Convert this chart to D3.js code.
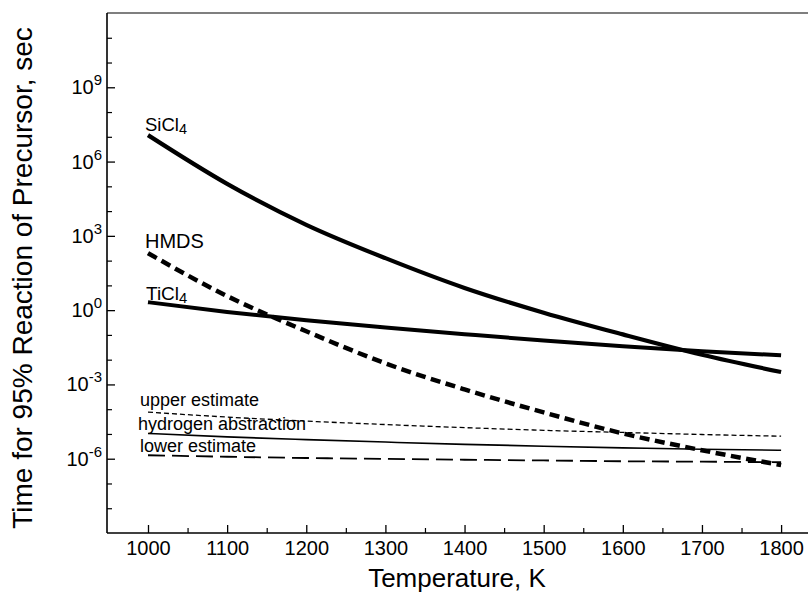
<!DOCTYPE html>
<html>
<head>
<meta charset="utf-8">
<script src="https://cdn.jsdelivr.net/npm/d3@7/dist/d3.min.js"></script>
<style>
  html, body { margin: 0; padding: 0; background: #fff; }
  svg { display: block; font-family: "Liberation Sans", Arial, Helvetica, sans-serif; }
</style>
</head>
<body>
<svg id="chart" width="809" height="593"></svg>
<script>
// ---- data ----
const temperatures = [1000, 1100, 1200, 1300, 1400, 1500, 1600, 1700, 1800];
const sicl4 = [1.17e7, 1.26e5, 2.8e3, 126, 7.9, 0.79, 0.105, 0.0158, 0.00316];
const ticl4 = [2.1, 0.85, 0.39, 0.20, 0.107, 0.059, 0.035, 0.022, 0.015];
const hmds  = [200, 3.7, 0.14, 7.1e-3, 6.3e-4, 7.4e-5, 1.05e-5, 2.2e-6, 5.5e-7];
const upperEstimate = [7.6e-5, 4.8e-5, 3.3e-5, 2.4e-5, 1.8e-5, 1.4e-5, 1.15e-5, 9.5e-6, 8.1e-6];
const hydrogenAbstraction = [1.05e-5, 7.6e-6, 5.9e-6, 4.7e-6, 3.8e-6, 3.2e-6, 2.75e-6, 2.4e-6, 2.2e-6];
const lowerEstimate = [1.38e-6, 1.2e-6, 1.07e-6, 9.8e-7, 9.1e-7, 8.5e-7, 7.9e-7, 7.6e-7, 7.2e-7];

const xTickValues = [1000, 1100, 1200, 1300, 1400, 1500, 1600, 1700, 1800];
const xMinorTicks = [1050, 1150, 1250, 1350, 1450, 1550, 1650, 1750];
const yLabelExponents = [-6, -3, 0, 3, 6, 9];
const yMinorExponents = [-8, -7, -5, -4, -2, -1, 1, 2, 4, 5, 7, 8, 10, 11];

(function () {
// ---- layout ----
const svg = d3.select("#chart");
const pL = 107, pR = 808, pT = 13, pB = 533;

const x = d3.scaleLinear().domain([948.2, 1834]).range([pL, pR]);
const y = d3.scaleLog().domain([1e-9, 1e12]).range([pB, pT]);

svg.append("rect").attr("width", 809).attr("height", 593).attr("fill", "#fff");

// frame: left, bottom, top (no right border)
const frame = svg.append("g").attr("stroke", "#000").attr("fill", "none");
frame.append("line").attr("x1", pL).attr("x2", pL).attr("y1", pT).attr("y2", pB).attr("stroke-width", 1.6);
frame.append("line").attr("x1", pL).attr("x2", pR).attr("y1", pB).attr("y2", pB).attr("stroke-width", 1.6);
frame.append("line").attr("x1", pL).attr("x2", pR).attr("y1", pT).attr("y2", pT).attr("stroke-width", 1.2);

// x axis (ticks inward)
const xAxis = d3.axisBottom(x).tickValues(xTickValues).tickSize(-8).tickPadding(8).tickFormat(d3.format("d"));
const gx = svg.append("g").attr("transform", `translate(0,${pB})`).call(xAxis);
gx.select(".domain").remove();
gx.selectAll(".tick line").attr("stroke", "#000").attr("stroke-width", 1.3);
gx.selectAll(".tick text").attr("font-size", 20).attr("fill", "#000").attr("font-family", "Liberation Sans, Arial, sans-serif");

const xMinor = d3.axisBottom(x).tickValues(xMinorTicks).tickSize(-5).tickFormat("");
const gxm = svg.append("g").attr("transform", `translate(0,${pB})`).call(xMinor);
gxm.select(".domain").remove();
gxm.selectAll(".tick line").attr("stroke", "#000").attr("stroke-width", 1.2);

// y axis (ticks inward)
const yMajor = d3.axisLeft(y).tickValues(yLabelExponents.map(e => Math.pow(10, e))).tickSize(-8).tickFormat("");
const gy = svg.append("g").attr("transform", `translate(${pL},0)`).call(yMajor);
gy.select(".domain").remove();
gy.selectAll(".tick line").attr("stroke", "#000").attr("stroke-width", 1.3);

const yMinor = d3.axisLeft(y).tickValues(yMinorExponents.map(e => Math.pow(10, e))).tickSize(-5).tickFormat("");
const gym = svg.append("g").attr("transform", `translate(${pL},0)`).call(yMinor);
gym.select(".domain").remove();
gym.selectAll(".tick line").attr("stroke", "#000").attr("stroke-width", 1.2);

// y tick labels 10^n
const yl = svg.append("g");
yLabelExponents.forEach(e => {
  const t = yl.append("text")
    .attr("x", 102)
    .attr("y", y(Math.pow(10, e)) + 7)
    .attr("text-anchor", "end")
    .attr("font-size", 20)
    .attr("fill", "#000");
  t.append("tspan").text("10");
  t.append("tspan").attr("dy", -9).attr("font-size", 15).text(String(e));
});

// axis titles
svg.append("text")
  .attr("x", 457).attr("y", 587)
  .attr("text-anchor", "middle")
  .attr("font-size", 26)
  .attr("fill", "#000")
  .text("Temperature, K");

svg.append("text")
  .attr("transform", "translate(32,278) rotate(-90)")
  .attr("text-anchor", "middle")
  .attr("font-size", 28)
  .attr("fill", "#000")
  .text("Time for 95% Reaction of Precursor, sec");

// ---- series ----
const line = d3.line()
  .x(d => x(d[0]))
  .y(d => y(d[1]))
  .curve(d3.curveMonotoneX);

const series = [
  { values: sicl4, width: 4.2, dash: null },
  { values: ticl4, width: 4.0, dash: null },
  { values: hmds, width: 4.5, dash: "10,5.5" },
  { values: upperEstimate, width: 1.3, dash: "5,3" },
  { values: hydrogenAbstraction, width: 1.6, dash: null },
  { values: lowerEstimate, width: 1.8, dash: "17,7" }
];

const gl = svg.append("g").attr("fill", "none").attr("stroke", "#000");
series.forEach(s => {
  gl.append("path")
    .datum(temperatures.map((t, i) => [t, s.values[i]]))
    .attr("d", line)
    .attr("stroke-width", s.width)
    .attr("stroke-dasharray", s.dash)
    .attr("stroke-linecap", "butt");
});

// ---- labels ----
function chemLabel(xp, yp, base, sub, size) {
  const t = svg.append("text").attr("x", xp).attr("y", yp).attr("font-size", size).attr("fill", "#000");
  t.append("tspan").text(base);
  if (sub) t.append("tspan").attr("dy", 3).attr("font-size", size * 0.78).text(sub);
}
chemLabel(145, 131, "SiCl", "4", 18.5);
chemLabel(145, 248, "HMDS", null, 20);
chemLabel(146, 300, "TiCl", "4", 19);

const smallLabels = [
  { text: "upper estimate", x: 140, y: 406 },
  { text: "hydrogen abstraction", x: 138, y: 430 },
  { text: "lower estimate", x: 140, y: 452 }
];
smallLabels.forEach(l => {
  svg.append("text").attr("x", l.x).attr("y", l.y).attr("font-size", 18).attr("fill", "#000").text(l.text);
});
})();
</script>
</body>
</html>
